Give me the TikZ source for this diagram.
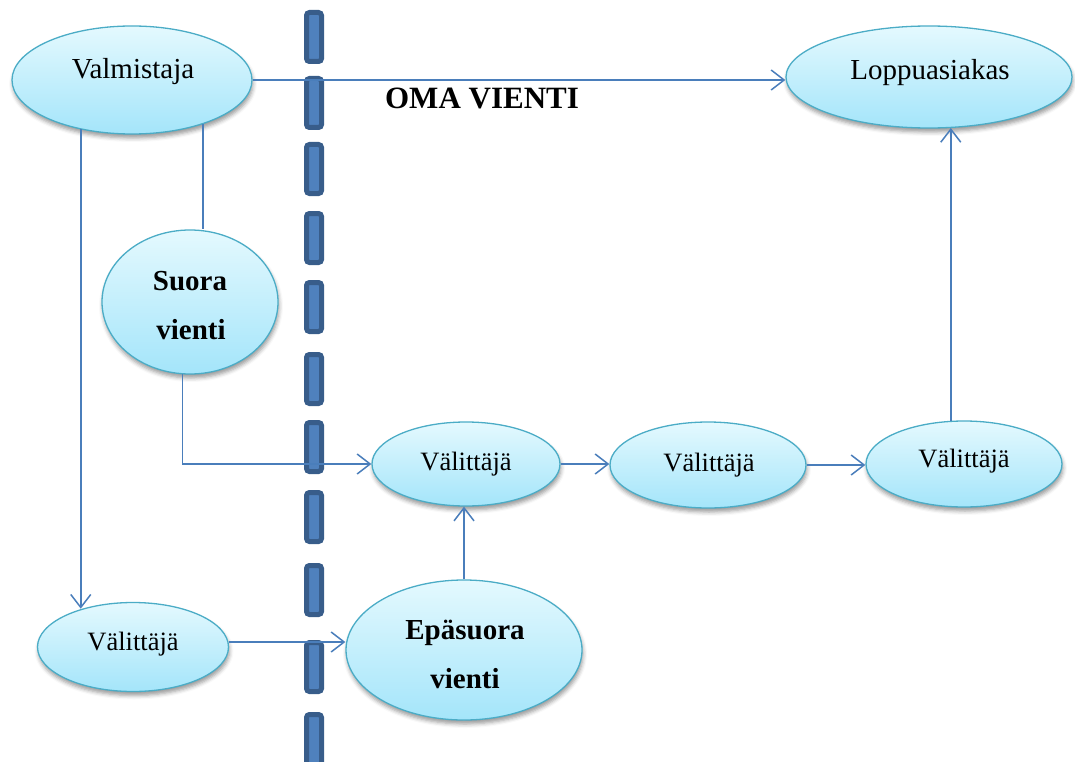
\documentclass[tikz,border=0pt]{standalone}
\usepackage{fontspec}
\setmainfont{Liberation Serif}
\usetikzlibrary{shapes.geometric,arrows.meta,shadows.blur}

\definecolor{linkblue}{HTML}{4A7EBB}
\definecolor{bubbletop}{HTML}{E4F9FE}
\definecolor{bubblebot}{HTML}{A4E5FA}
\definecolor{bubbleedge}{HTML}{4BACC6}
\definecolor{barfill}{HTML}{4F81BD}
\definecolor{baredge}{HTML}{385D8A}

\tikzset{
  bubble/.style={ellipse, draw=bubbleedge, line width=1.3pt,
    top color=bubbletop, bottom color=bubblebot, inner sep=0pt,
    blur shadow={shadow xshift=1pt, shadow yshift=-4pt,
      shadow blur radius=4pt, shadow opacity=40}},
  txt/.style={anchor=base, inner sep=0pt, font=\fontsize{29}{31}\selectfont},
  smalltxt/.style={anchor=base, inner sep=0pt, font=\fontsize{26.5}{28}\selectfont},
  boldtxt/.style={anchor=base, inner sep=0pt, font=\bfseries\fontsize{29}{31}\selectfont},
  conn/.style={draw=linkblue, line width=1.5pt},
  arr/.style={conn, -{Straight Barb[length=13pt,width=20pt]}},
  divbar/.style={draw=baredge, fill=barfill, line width=5pt, rounded corners=3pt}
}

\begin{document}
\begin{tikzpicture}[x=1pt,y=-1pt]
\useasboundingbox (0,0) rectangle (1075,762);

% dashed border line
\foreach \ytop/\ybot in {12.5/61.5, 78.5/127.5, 144.5/193.5, 213.5/262.5,
    282.5/331.5, 354.5/403.5, 422.5/471.5, 492.5/541.5, 565.5/614.5,
    642.5/691.5, 714.5/770}
  \draw[divbar] (306.5,\ytop) rectangle (321.5,\ybot);

% ellipses
\node[bubble, minimum width=240pt, minimum height=108pt] (vm) at (132,80) {};
\node[bubble, minimum width=286pt, minimum height=102pt] (la) at (929,77) {};
\node[bubble, minimum width=176pt, minimum height=144pt] (sv) at (190,302) {};
\node[bubble, minimum width=188pt, minimum height=84pt]  (v1) at (466,464) {};
\node[bubble, minimum width=196pt, minimum height=86pt]  (v2) at (708,465) {};
\node[bubble, minimum width=196pt, minimum height=86pt]  (v3) at (964,464) {};
\node[bubble, minimum width=191pt, minimum height=89pt]  (vb) at (133,647) {};
\node[bubble, minimum width=236pt, minimum height=140pt] (ep) at (464,650) {};

% labels
\node[txt] (vm-t) at (133,79) {Valmistaja};
\node[txt] (la-t) at (930,80) {Loppuasiakas};
\node[boldtxt] (sv-t1) at (190,290) {Suora};
\node[boldtxt] (sv-t2) at (191,339) {vienti};
\node[smalltxt] (v1-t) at (466,470) {Välittäjä};
\node[smalltxt] (v2-t) at (709,471) {Välittäjä};
\node[smalltxt] (v3-t) at (964,467) {Välittäjä};
\node[smalltxt] (vb-t) at (133,650) {Välittäjä};
\node[boldtxt] (ep-t1) at (465,639) {Epäsuora};
\node[boldtxt] (ep-t2) at (465,688) {vienti};
\node[anchor=base, inner sep=0pt, font=\bfseries\fontsize{31}{33}\selectfont]
  (oma) at (482,109) {OMA VIENTI};

% connectors, from border to border
\draw[arr] (vm.east) -- (vm.east -| la.west);
\draw[arr] (vm.224.5) -- (vm.224.5 |- vb.143.8);
\draw[conn] (vm.-32.6) -- (vm.-32.6 |- sv.north);
\draw[arr] (sv.264.4) |- (v1.west);
\draw[arr] (v1.east) -- (v1.east -| v2.west);
\draw[arr] (v2.east) -- (v2.east -| v3.west);
\draw[arr] (v3.107) -- (v3.107 |- la.-66.4);
\draw[arr] (ep.north) -- (ep.north |- v1.south);
\draw[arr] (vb.3) -- (vb.3 -| ep.west);
\end{tikzpicture}
\end{document}
